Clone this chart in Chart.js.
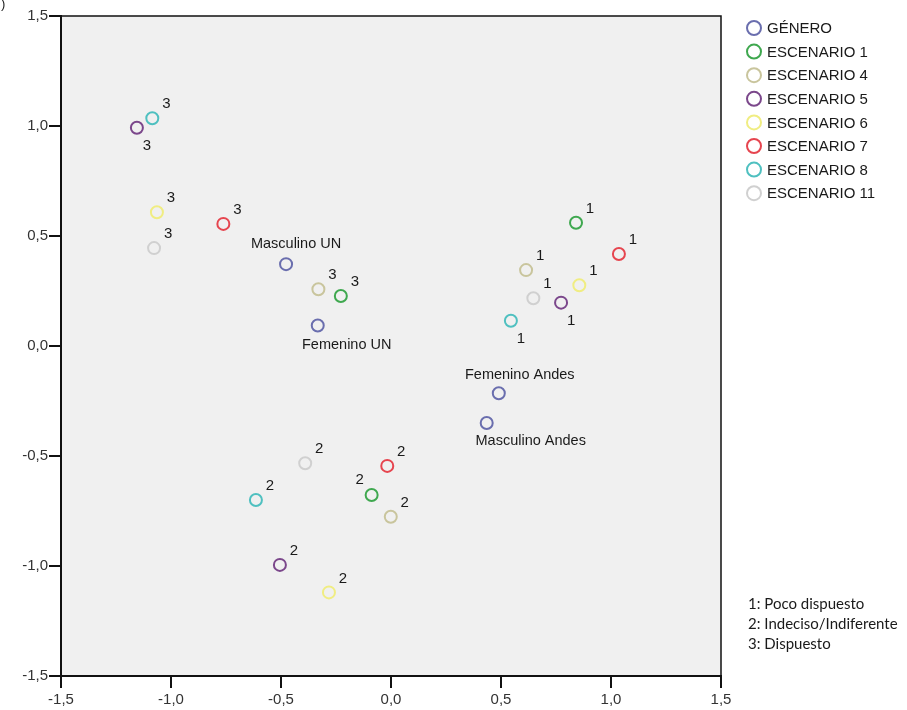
<!DOCTYPE html>
<html><head><meta charset="utf-8">
<script src="https://cdn.jsdelivr.net/npm/chart.js@4.4.1/dist/chart.umd.min.js"></script>
<style>html,body{margin:0;padding:0;background:#fff}#wrap{position:relative;width:907px;height:710px}</style>
</head><body><div id="wrap"><canvas id="c" width="907" height="710"></canvas></div>
<script>
// ---- data ----
const tickValues = [-1.5, -1.0, -0.5, 0.0, 0.5, 1.0, 1.5];
const tickLabels = ['-1,5', '-1,0', '-0,5', '0,0', '0,5', '1,0', '1,5'];
const seriesNames = ['GÉNERO', 'ESCENARIO 1', 'ESCENARIO 4', 'ESCENARIO 5', 'ESCENARIO 6', 'ESCENARIO 7', 'ESCENARIO 8', 'ESCENARIO 11'];
const generoText = ['Masculino UN', 'Femenino UN', 'Femenino Andes', 'Masculino Andes'];
const generoX = [-0.477, -0.333, 0.490, 0.435];
const generoY = [0.372, 0.093, -0.215, -0.350];
const categoryText = ['1', '2', '3'];           // levels 1,2,3
const esc1X = [0.841, -0.088, -0.228];  const esc1Y = [0.560, -0.677, 0.227];
const esc4X = [0.614, -0.001, -0.330];  const esc4Y = [0.345, -0.776, 0.258];
const esc5X = [0.773, -0.505, -1.155];  const esc5Y = [0.197, -0.995, 0.992];
const esc6X = [0.856, -0.282, -1.064];  const esc6Y = [0.276, -1.120, 0.608];
const esc7X = [1.036, -0.017, -0.762];  const esc7Y = [0.418, -0.545, 0.555];
const esc8X = [0.545, -0.614, -1.085];  const esc8Y = [0.115, -0.700, 1.035];
const esc11X = [0.647, -0.390, -1.077]; const esc11Y = [0.217, -0.533, 0.445];
const noteLines = ['1: Poco dispuesto', '2: Indeciso/Indiferente', '3: Dispuesto'];

// ---- styling / layout (not data) ----
const colors = ['#6a6eae', '#3fa84f', '#c9c59d', '#7b478b', '#f0ed82', '#e6454f', '#4fc0c0', '#d0d0d0'];
const NE = [14, -14], SE = [10, 18], NW = [-12, -15];
const labelOffsets = [
  [[10, -20], [29, 19], [21, -18], [44, 18]],
  [NE, NW, NE], [NE, NE, NE], [SE, NE, SE], [NE, NE, NE],
  [NE, NE, NE], [SE, NE, NE], [NE, NE, NE]
];
const xs = [generoX, esc1X, esc4X, esc5X, esc6X, esc7X, esc8X, esc11X];
const ys = [generoY, esc1Y, esc4Y, esc5Y, esc6Y, esc7Y, esc8Y, esc11Y];
const FONT = '"Liberation Sans", Arial, sans-serif';

const datasets = seriesNames.map((name, s) => ({
  label: name,
  data: xs[s].map((v, i) => ({ x: v, y: ys[s][i] })),
  pointLabels: s === 0 ? generoText : categoryText,
  labelOffsets: labelOffsets[s],
  borderColor: colors[s],
  backgroundColor: 'rgba(0,0,0,0)',
  pointRadius: 6,
  pointBorderWidth: 2,
  pointHoverRadius: 6,
  showLine: false
}));

const bgPlugin = {
  id: 'bg',
  beforeDraw(chart) {
    const { ctx, chartArea: a } = chart;
    ctx.save();
    ctx.fillStyle = '#fff';
    ctx.fillRect(0, 0, chart.width, chart.height);
    ctx.fillStyle = '#f0f0f0';
    ctx.fillRect(a.left, a.top, a.right - a.left, a.bottom - a.top);
    ctx.restore();
  },
  afterDraw(chart) {
    const { ctx, chartArea: a } = chart;
    ctx.save();
    ctx.strokeStyle = '#111';
    ctx.lineWidth = 1.5;
    ctx.beginPath();
    ctx.moveTo(a.left, a.top); ctx.lineTo(a.right, a.top); ctx.lineTo(a.right, a.bottom);
    ctx.stroke();
    // legend
    ctx.font = '15px ' + FONT;
    ctx.textBaseline = 'middle';
    ctx.textAlign = 'left';
    chart.data.datasets.forEach((ds, i) => {
      const y = 28 + i * 23.6;
      ctx.beginPath();
      ctx.arc(754, y, 7, 0, Math.PI * 2);
      ctx.strokeStyle = ds.borderColor;
      ctx.lineWidth = 2;
      ctx.stroke();
      ctx.fillStyle = '#1a1a1a';
      ctx.fillText(ds.label, 767, y + 1);
    });
    // note
    ctx.font = '15px Lato, "Open Sans", sans-serif';
    ctx.fillStyle = '#1a1a1a';
    noteLines.forEach((t, i) => ctx.fillText(t, 748, 604 + i * 20));
    // stray fragment top-left
    ctx.font = '13px ' + FONT;
    ctx.fillText(')', 1, 4);
    ctx.restore();
  },
  afterDatasetsDraw(chart) {
    const { ctx } = chart;
    ctx.save();
    ctx.fillStyle = '#1a1a1a';
    ctx.textAlign = 'center';
    ctx.textBaseline = 'middle';
    chart.data.datasets.forEach((ds, s) => {
      ctx.font = (s === 0 ? '14.5px ' : '15px ') + FONT;
      chart.getDatasetMeta(s).data.forEach((el, i) => {
        const o = ds.labelOffsets[i];
        ctx.fillText(ds.pointLabels[i], el.x + o[0], el.y + o[1]);
      });
    });
    ctx.restore();
  }
};

function axis(fitProp, size, pad) {
  return {
    type: 'linear', min: -1.5, max: 1.5,
    afterBuildTicks(sc) { sc.ticks = tickValues.map(v => ({ value: v })); },
    afterFit(sc) { sc[fitProp] = size; },
    ticks: {
      callback(v) { const i = tickValues.findIndex(t => Math.abs(t - v) < 1e-9); return i >= 0 ? tickLabels[i] : ''; },
      font: { family: FONT, size: 15 },
      color: '#333', padding: pad, autoSkip: false, maxRotation: 0
    },
    grid: { drawOnChartArea: false, drawTicks: true, tickLength: 12, color: '#111', lineWidth: 2 },
    border: { display: true, color: '#111', width: 2 }
  };
}

new Chart(document.getElementById('c'), {
  type: 'scatter',
  data: { datasets },
  plugins: [bgPlugin],
  options: {
    responsive: false, animation: false, devicePixelRatio: 1,
    layout: { padding: { top: 16, right: 186, bottom: 0, left: 0 } },
    plugins: { legend: { display: false }, tooltip: { enabled: false } },
    scales: { x: axis('height', 34, 3), y: axis('width', 61, 1) }
  }
});
</script></body></html>
